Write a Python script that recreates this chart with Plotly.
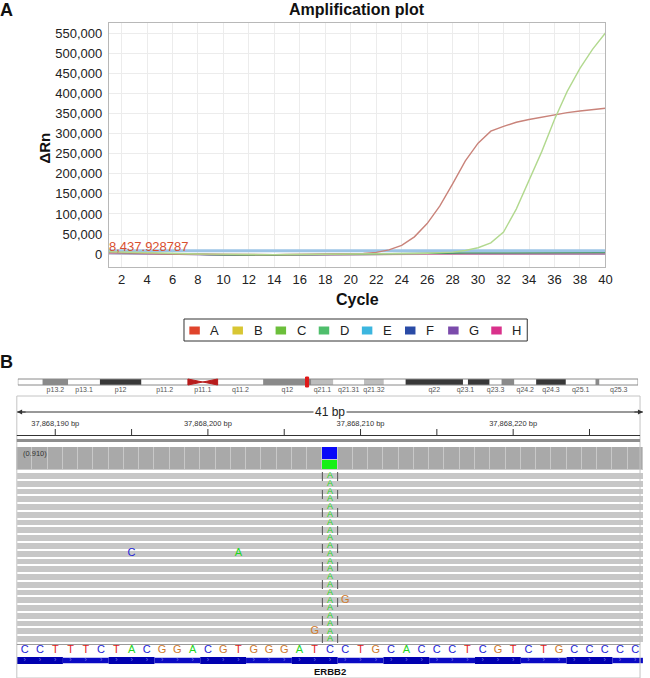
import plotly.graph_objects as go

W, H = 650, 678
def px(x): return x / W
def py(y): return 1 - y / H

FONT = "Liberation Sans, Arial, sans-serif"

# ---------------- Panel A data ----------------
cycles = list(range(1, 41))
dRn_A = [5000, 3500, 2200, 1300, 800, 400, 0, -500, -900, -1200, -1500, -1500, -1400, -1200, -1000, -800, -600, -300, 0, 600,
         1800, 4500, 10500, 22000, 43000, 76000, 120000, 175000, 232000, 276000, 306000, 318000, 328000, 335000, 341000,
         347000, 352000, 356000, 359000, 363000]
dRn_B = [3000, 2400, 1700, 1000, 300, -300, -900, -1300, -1700, -2000, -2300, -2300, -2200, -2000, -1700, -1500, -1300, -1000,
         -800, -600, -500, -300, -200, 0, 200, 300, 400, 600, 700, 800, 900, 1000, 1100, 1100, 1200, 1300, 1300, 1400, 1400, 1500]
dRn_C = [6000, 5000, 4000, 3000, 2000, 1500, 1000, 500, 0, -500, -800, -1000, -1200, -1200, -1000, -900, -800, -600, -400, -200,
         0, 300, 600, 1000, 1500, 2200, 3200, 5000, 9000, 16000, 28000, 55000, 112000, 182000, 255000, 335000, 405000, 462000,
         510000, 550000]
dRn_D = [4500, 3600, 2800, 1900, 1000, 400, -200, -700, -1200, -1600, -2100, -2500, -2600, -2400, -2000, -1500, -1100, -600,
         -100, 400, 800, 1100, 1300, 1600, 1900, 2200, 2500, 2800, 3000, 3100, 3100, 3200, 3300, 3300, 3400, 3400, 3500, 3500,
         3600, 3600]
dRn_E = [2500, 1800, 1200, 700, 300, 0, -400, -700, -1000, -1200, -1400, -1500, -1600, -1500, -1400, -1200, -1000, -800, -600,
         -400, -200, 0, 100, 200, 300, 300, 400, 500, 500, 600, 600, 600, 700, 700, 700, 800, 800, 800, 900, 900]
dRn_F = [1500, 1100, 700, 300, 0, -300, -600, -900, -1200, -1500, -1800, -2000, -2100, -2100, -1900, -1600, -1300, -1000, -700,
         -500, -300, -100, 0, 100, 200, 200, 300, 300, 400, 400, 400, 500, 500, 500, 600, 600, 600, 700, 700, 700]
dRn_G = [3500, 2600, 1700, 900, 200, -400, -1000, -1600, -2200, -2700, -3100, -3400, -3500, -3300, -2900, -2400, -1900, -1400,
         -900, -500, -200, 0, 200, 300, 400, 400, 500, 500, 500, 600, 600, 600, 600, 700, 700, 700, 700, 800, 800, 800]
dRn_H = [2000, 1500, 1000, 500, 100, -300, -700, -1000, -1300, -1600, -1800, -1900, -1900, -1800, -1600, -1400, -1200, -900,
         -700, -400, -200, 0, 100, 200, 300, 300, 400, 400, 400, 500, 500, 500, 600, 600, 600, 600, 700, 700, 700, 700]
threshold = 8437.928787

series_names = ["A", "B", "C", "D", "E", "F", "G", "H"]
legend_colors = ["#e0442c", "#d8c633", "#6cbf3b", "#4fbe6c", "#3cb6df", "#2a4ba6", "#7b4bab", "#d9318b"]
line_colors = ["#c9837a", "#d6cf84", "#b2d98f", "#3e9655", "#9cc8e2", "#6a7cb4", "#9b82b8", "#cf86ac"]
y_ticks = [0, 50000, 100000, 150000, 200000, 250000, 300000, 350000, 400000, 450000, 500000, 550000]
x_ticks = [2, 4, 6, 8, 10, 12, 14, 16, 18, 20, 22, 24, 26, 28, 30, 32, 34, 36, 38, 40]

# ---------------- Panel B data ----------------
ref_seq = "CCTTTCTACGGACGTGGGATCCTGCACCCTCGTCTGCCCCC"
start_pos = 37868188
variant_pos = 37868208
variant_alt = "A"
n_reads = 22
mismatch_pos = [37868195, 37868202, 37868209, 37868207]
mismatch_row = [10, 10, 16, 20]
mismatch_base = ["C", "A", "G", "G"]
coverage_depth = [44, 44, 44, 44, 44, 44, 44, 44, 44, 44, 44, 44, 44, 44, 44, 44, 44, 44, 44, 44, 44,
                  44, 44, 44, 44, 44, 44, 44, 44, 44, 44, 44, 44, 44, 44, 44, 44, 44, 44, 44, 44]
variant_counts = {"A": 19, "C": 25}
coverage_label = "(0.910)"
gene_name = "ERBB2"
ruler_ticks = [37868190, 37868195, 37868200, 37868205, 37868210, 37868215, 37868220, 37868225]
ruler_labels = [37868190, 37868200, 37868210, 37868220]
locus_mb = 37.868

band_names = ["", "p13.2", "p13.1", "p12", "p11.2", "p11.1", "", "q11.2", "q12", "q21.1", "q21.31", "q21.32", "",
              "q22", "q23.1", "", "q23.3", "", "q24.2", "q24.3", "q25.1", "", "q25.3"]
band_start = [0, 3.24, 6.60, 10.75, 16.19, 22.27, 24.22, 26.16, 32.12, 38.46, 41.31, 45.33, 47.92, 50.77, 58.28,
              58.93, 61.77, 63.33, 65.01, 67.86, 71.75, 75.63, 76.15]
chrom_len = 81.2
band_stain = ["gneg", "gpos50", "gneg", "gpos75", "gneg", "acen", "acen", "gneg", "gpos50", "gpos25", "gneg", "gpos25",
              "gneg", "gpos75", "gneg", "gpos75", "gneg", "gpos50", "gneg", "gpos75", "gneg", "gpos50", "gneg"]
band_end = band_start[1:] + [chrom_len]
stain_color = {"gneg": "#ffffff", "gpos25": "#bdbdbd", "gpos50": "#8a8a8a", "gpos75": "#383838", "acen": "#b71c1c"}
base_color = {"A": "#1fd61f", "C": "#2424d8", "G": "#cf7a2e", "T": "#e42323"}

positions = [start_pos + i for i in range(len(ref_seq))]
bp_px = 15.43

fig = go.Figure()

# ---------------- Panel A traces ----------------
series = dict(zip(series_names, [dRn_A, dRn_B, dRn_C, dRn_D, dRn_E, dRn_F, dRn_G, dRn_H]))
lc = dict(zip(series_names, line_colors))
for n in ["B", "E", "F", "G", "H", "D"]:
    fig.add_trace(go.Scatter(x=cycles, y=series[n], mode="lines", line=dict(color=lc[n], width=1.3), name=n,
                             showlegend=False, hoverinfo="skip", xaxis="x", yaxis="y"))
fig.add_trace(go.Scatter(x=[cycles[0], cycles[-1]], y=[threshold, threshold], mode="lines",
                         line=dict(color="#9dc4e6", width=3), showlegend=False, hoverinfo="skip"))
for n in ["A", "C"]:
    fig.add_trace(go.Scatter(x=cycles, y=series[n], mode="lines", line=dict(color=lc[n], width=1.4), name=n,
                             showlegend=False, hoverinfo="skip", xaxis="x", yaxis="y"))

# ---------------- Panel B traces ----------------
cov_x = [p for p in positions if p != variant_pos]
cov_y = [d for p, d in zip(positions, coverage_depth) if p != variant_pos]
fig.add_trace(go.Bar(x=cov_x, y=cov_y, width=1, xaxis="x2", yaxis="y4", showlegend=False, hoverinfo="skip",
                     marker=dict(color="#a9a9a9", line=dict(color="#c8c8c8", width=1))))
fig.add_trace(go.Bar(x=[variant_pos], y=[variant_counts["A"]], width=1, xaxis="x2", yaxis="y4", showlegend=False,
                     hoverinfo="skip", marker=dict(color="#16f016", line=dict(color="#c8c8c8", width=1))))
fig.add_trace(go.Bar(x=[variant_pos], y=[variant_counts["C"]], width=1, xaxis="x2", yaxis="y4", showlegend=False,
                     hoverinfo="skip", marker=dict(color="#0808f8", line=dict(color="#c8c8c8", width=1))))

rows = [r + 0.5 for r in range(n_reads)]
fig.add_trace(go.Heatmap(x=positions, y=rows, z=[[1] * len(positions) for _ in rows],
                         colorscale=[[0, "#c7c7c7"], [1, "#c7c7c7"]], showscale=False, ygap=2, xgap=0,
                         hoverinfo="skip", xaxis="x2", yaxis="y3"))
fig.add_trace(go.Scatter(x=[variant_pos] * n_reads, y=rows, mode="text", text=[variant_alt] * n_reads,
                         textfont=dict(family=FONT, size=9, color=base_color[variant_alt]),
                         showlegend=False, hoverinfo="skip", xaxis="x2", yaxis="y3"))
fig.add_trace(go.Scatter(x=mismatch_pos, y=[r + 0.5 for r in mismatch_row], mode="text", text=mismatch_base,
                         textfont=dict(family=FONT, size=11, color=[base_color[b] for b in mismatch_base]),
                         showlegend=False, hoverinfo="skip", xaxis="x2", yaxis="y3"))

fig.add_trace(go.Scatter(x=positions, y=[300] * len(positions), mode="text", text=list(ref_seq),
                         textfont=dict(family=FONT, size=11, color=[base_color[b] for b in ref_seq]),
                         showlegend=False, hoverinfo="skip", xaxis="x2", yaxis="y2"))
fig.add_trace(go.Scatter(x=positions, y=[310.5] * len(positions), mode="text", text=["›"] * len(positions),
                         textfont=dict(family=FONT, size=7, color="#7a7ae0"),
                         showlegend=False, hoverinfo="skip", xaxis="x2", yaxis="y2"))

lab_x, lab_t = [], []
for nme, s, e, st in zip(band_names, band_start, band_end, band_stain):
    if nme:
        lab_x.append(e if st == "acen" else (s + e) / 2)
        lab_t.append(nme)
fig.add_trace(go.Scatter(x=lab_x, y=[40.5] * len(lab_x), mode="text", text=lab_t,
                         textfont=dict(family=FONT, size=7, color="#555555"),
                         showlegend=False, hoverinfo="skip", xaxis="x3", yaxis="y2"))
fig.add_trace(go.Scatter(x=ruler_labels, y=[74.5] * len(ruler_labels), mode="text",
                         text=[f"{p:,} bp" for p in ruler_labels],
                         textfont=dict(family=FONT, size=7.5, color="#333333"),
                         showlegend=False, hoverinfo="skip", xaxis="x2", yaxis="y2"))

# ---------------- shapes ----------------
shapes = []
for s, e, st in zip(band_start, band_end, band_stain):
    if st == "acen":
        continue
    shapes.append(dict(type="rect", xref="x3", yref="y2", x0=s, x1=e, y0=29, y1=35,
                       fillcolor=stain_color[st], line=dict(width=0)))
shapes.append(dict(type="rect", xref="x3", yref="y2", x0=0, x1=chrom_len, y0=29, y1=35,
                   fillcolor="rgba(0,0,0,0)", line=dict(color="#8a8a8a", width=1)))
for s, e, st, nme in zip(band_start, band_end, band_stain, band_names):
    if st != "acen":
        continue
    if nme.startswith("p"):
        path = f"M {s},29 L {e},32 L {s},35 Z"
    else:
        path = f"M {e},29 L {s},32 L {e},35 Z"
    shapes.append(dict(type="path", xref="x3", yref="y2", path=path,
                       fillcolor=stain_color["acen"], line=dict(color=stain_color["acen"], width=1)))
shapes.append(dict(type="rect", xref="x3", yref="y2", x0=locus_mb - 0.2, x1=locus_mb + 0.2, y0=27, y1=37,
                   fillcolor="#e01818", line=dict(color="#e01818", width=1)))
shapes.append(dict(type="rect", xref="paper", yref="paper", x0=px(17), x1=px(647), y0=py(678), y1=py(396),
                   line=dict(color="#c4c4c4", width=1), fillcolor="rgba(0,0,0,0)"))
x_lo, x_hi = positions[0] - 0.5, positions[-1] + 0.5
shapes.append(dict(type="line", xref="x2", yref="y2", x0=x_lo, x1=x_hi, y0=62, y1=62,
                   line=dict(color="#333333", width=1)))
for p in ruler_ticks:
    shapes.append(dict(type="line", xref="x2", yref="y2", x0=p, x1=p, y0=79, y1=85,
                       line=dict(color="#333333", width=1)))
shapes.append(dict(type="line", xref="paper", yref="paper", x0=px(17), x1=px(647), y0=py(435.5), y1=py(435.5),
                   line=dict(color="#333333", width=1)))
shapes.append(dict(type="rect", xref="paper", yref="paper", x0=px(17), x1=px(647), y0=py(442), y1=py(439),
                   fillcolor="#8e8e8e", line=dict(width=0)))
for xx in [variant_pos - 0.5, variant_pos + 0.5]:
    shapes.append(dict(type="line", xref="x2", yref="y3", x0=xx, x1=xx, y0=0, y1=n_reads,
                       line=dict(color="#555555", width=1, dash="dash")))
shapes.append(dict(type="line", xref="paper", yref="paper", x0=px(17), x1=px(647), y0=py(644.5), y1=py(644.5),
                   line=dict(color="#9a9a9a", width=1)))
codon_cols = ["#0000b0", "#0a0ac4"]
for k, i in enumerate(range(0, len(positions), 3)):
    j = min(i + 3, len(positions)) - 1
    shapes.append(dict(type="rect", xref="x2", yref="y2", x0=positions[i] - 0.5, x1=positions[j] + 0.5,
                       y0=307 if k % 2 == 0 else 307.8, y1=314 if k % 2 == 0 else 313.2,
                       fillcolor=codon_cols[k % 2], line=dict(width=0), layer="below"))

# ---------------- legend (panel A) ----------------
leg_left, leg_right, leg_top, leg_bot = 186, 533, 319, 341
leg_first, leg_pitch = 196.7, 43.6
shapes.append(dict(type="rect", xref="paper", yref="paper", x0=px(leg_left), x1=px(leg_right),
                   y0=py(leg_bot), y1=py(leg_top), line=dict(color="#333333", width=1), fillcolor="white"))
leg_ann = []
for i, (n, c) in enumerate(zip(series_names, legend_colors)):
    cx = leg_first + leg_pitch * i
    shapes.append(dict(type="rect", xref="paper", yref="paper", x0=px(cx - 5.3), x1=px(cx + 5.3),
                       y0=py(334.5), y1=py(326.5), fillcolor=c, line=dict(width=0)))
    leg_ann.append(dict(text=n, x=px(cx + 14), y=py(330.5), xref="paper", yref="paper", xanchor="left",
                        yanchor="middle", showarrow=False, font=dict(family=FONT, size=13, color="#222")))

# ---------------- annotations ----------------
ann = [
    dict(text="<b>A</b>", x=px(7), y=py(10), xref="paper", yref="paper", xanchor="center", yanchor="middle",
         showarrow=False, font=dict(family=FONT, size=18, color="#111")),
    dict(text="<b>Amplification plot</b>", x=px(361), y=py(10), xref="paper", yref="paper", xanchor="center",
         yanchor="middle", showarrow=False, font=dict(family=FONT, size=16, color="#111")),
    dict(text="<b>ΔRn</b>", x=px(45), y=py(148), xref="paper", yref="paper", xanchor="center", yanchor="middle",
         textangle=-90, showarrow=False, font=dict(family=FONT, size=15, color="#111")),
    dict(text="<b>Cycle</b>", x=px(361), y=py(299), xref="paper", yref="paper", xanchor="center",
         yanchor="middle", showarrow=False, font=dict(family=FONT, size=16, color="#111")),
    dict(text=f"{threshold:,.6f}", x=cycles[0], y=threshold, xref="x", yref="y", xanchor="left",
         yanchor="middle", yshift=4, xshift=-2, showarrow=False, font=dict(family=FONT, size=13, color="#d9502f")),
    dict(text="<b>B</b>", x=px(7), y=py(362), xref="paper", yref="paper", xanchor="center", yanchor="middle",
         showarrow=False, font=dict(family=FONT, size=18, color="#111")),
    dict(text=f"{len(ref_seq)} bp", x=(x_lo + x_hi) / 2, y=62, xref="x2", yref="y2", showarrow=False,
         xanchor="center", yanchor="middle", bgcolor="#ffffff", font=dict(family=FONT, size=12, color="#222")),
    dict(text="", x=x_hi, y=62, xref="x2", yref="y2", ax=-10, ay=0, showarrow=True, arrowhead=2,
         arrowsize=1, arrowwidth=1, arrowcolor="#333"),
    dict(text="", x=x_lo, y=62, xref="x2", yref="y2", ax=10, ay=0, showarrow=True, arrowhead=2,
         arrowsize=1, arrowwidth=1, arrowcolor="#333"),
    dict(text=coverage_label, x=px(21), y=py(453), xref="paper", yref="paper", xanchor="left", yanchor="middle",
         showarrow=False, font=dict(family=FONT, size=7.5, color="#333")),
    dict(text=f"<b>{gene_name}</b>", x=positions[len(positions) // 2], y=321, xref="x2", yref="y2",
         xanchor="center", yanchor="middle", showarrow=False, font=dict(family=FONT, size=9.5, color="#111")),
] + leg_ann

axis_common = dict(showgrid=True, gridcolor="#ececec", gridwidth=1, zeroline=False, showline=True,
                   linecolor="#b8b8b8", linewidth=1, mirror=True, ticks="",
                   tickfont=dict(family=FONT, size=13, color="#222"))

fig.update_layout(
    width=W, height=H, margin=dict(l=0, r=0, t=0, b=0),
    paper_bgcolor="white", plot_bgcolor="rgba(0,0,0,0)",
    barmode="stack", bargap=0,
    font=dict(family=FONT),
    showlegend=False,
    xaxis=dict(domain=[px(110), px(612)], range=[1, 40], tickvals=x_ticks, anchor="y",
               ticklabelstandoff=0, **axis_common),
    yaxis=dict(domain=[py(267), py(23)], range=[-32000, 575000], tickvals=y_ticks, tickformat=",",
               anchor="x", ticklabelstandoff=3, **axis_common),
    xaxis2=dict(domain=[0, 1], range=[start_pos - 25 / bp_px, start_pos + 625 / bp_px], visible=False,
                anchor="y2"),
    yaxis2=dict(domain=[0, py(350)], range=[328, 0], visible=False, anchor="x2"),
    xaxis3=dict(domain=[px(18), px(645)], range=[0, chrom_len], visible=False, anchor="y2"),
    yaxis3=dict(domain=[py(643), py(472)], range=[n_reads, 0], visible=False, anchor="x2"),
    yaxis4=dict(domain=[py(470), py(447)], range=[0, max(coverage_depth)], visible=False, anchor="x2"),
    shapes=shapes,
    annotations=ann,
)

fig.write_html("out.html", config={"displayModeBar": False},
               post_script="document.body.style.margin='0';")
